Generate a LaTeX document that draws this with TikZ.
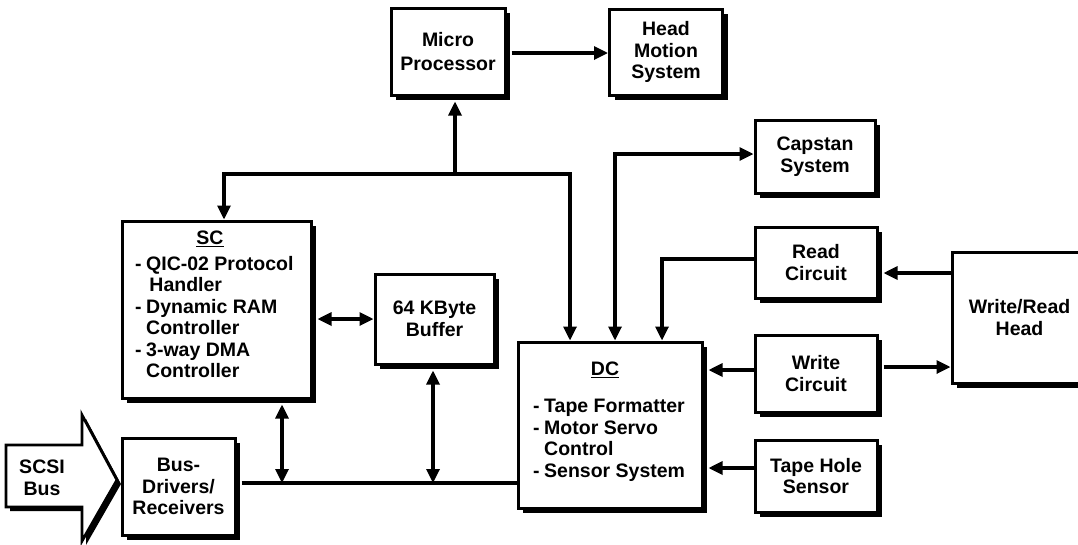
\documentclass[tikz,border=0pt]{standalone}
\usepackage{fontspec}
\setmainfont{Liberation Sans}
\usetikzlibrary{shadows,arrows.meta}
\newcommand\fs{\fontsize{19.5pt}{21.5pt}\selectfont\bfseries}
\newcommand\dsh{\makebox[11pt][l]{-}}
\newcommand\ind{\hspace*{11pt}}
\tikzset{
  blk/.style={draw, line width=3pt, fill=white, inner sep=0pt, align=center, font=\fs,
    drop shadow={shadow xshift=5pt, shadow yshift=-5pt, fill=black, opacity=1}},
  txt/.style={inner sep=0pt, font=\fs, align=left},
  wire/.style={line width=3.2pt},
  arr/.style={wire, -{Triangle[length=14pt,width=13pt]}},
  darr/.style={wire, {Triangle[length=14pt,width=13pt]}-{Triangle[length=14pt,width=13pt]}},
}
\begin{document}
\begin{tikzpicture}[x=1pt,y=-1pt]
\useasboundingbox (0,0) rectangle (1078,544);
% blocks
\node[blk, minimum width=114pt, minimum height=87pt] (MP) at (448,51.5) {Micro\\[2pt]Processor};
\node[blk, minimum width=113pt, minimum height=86pt] (HMS) at (666,52) {Head\\Motion\\System};
\node[blk, minimum width=120pt, minimum height=73pt] (CAP) at (815,156.5) {Capstan\\System};
\node[blk, minimum width=189pt, minimum height=177pt] (SC) at (216.5,309.5) {};
\node[blk, minimum width=119pt, minimum height=90pt] (BUF) at (434.5,319) {64 KByte\\Buffer};
\node[blk, minimum width=122pt, minimum height=71pt] (RD) at (816,262.5) {Read\\Circuit};
\node[blk, minimum width=135pt, minimum height=131pt] (WRH) at (1019.5,317.5) {Write/Read\\Head};
\node[blk, minimum width=184pt, minimum height=166pt] (DC) at (610,425) {};
\node[blk, minimum width=122pt, minimum height=77pt] (WR) at (816,373.5) {Write\\Circuit};
\node[blk, minimum width=122pt, minimum height=72pt] (THS) at (816,476) {Tape Hole\\Sensor};
\node[blk, minimum width=113pt, minimum height=97pt] (BD) at (178.5,486.5) {Bus-\\Drivers/\\Receivers};
% texts of SC and DC
\node[txt] (sct) at (210,239) {\underline{SC}};
\node[txt, anchor=north west] (scl) at (135,256) {\dsh QIC-02 Protocol\\\ind\,Handler\\\dsh Dynamic RAM\\\ind Controller\\\dsh 3-way DMA\\\ind Controller};
\node[txt] (dct) at (605,370) {\underline{DC}};
\node[txt, anchor=north west] (dcl) at (533,399) {\dsh Tape Formatter\\\dsh Motor Servo\\\ind Control\\\dsh Sensor System};
% SCSI bus arrow
\filldraw[line width=2.8pt, fill=white, line join=miter,
  drop shadow={shadow xshift=4pt, shadow yshift=-4pt, fill=black, opacity=1}]
  (6,445) -- (82,445) -- (82,415) -- (117,480) -- (82,541) -- (82,507) -- (6,507) -- cycle;
\node[txt, align=center] (scsi) at (42,478) {SCSI\\Bus};
% connectors
\coordinate (J1) at (455,174);
\coordinate (cL) at (224,174);
\coordinate (cR) at (570,174);
\draw[arr] (J1) -- ([yshift=-5pt]J1 |- MP.south);
\draw[arr, line join=miter] (J1) -- (cL) -- (cL |- SC.north);
\draw[arr, line join=miter] (J1) -- (cR) -- (cR |- DC.north);
\coordinate (cMH) at (560,53);
\draw[arr] ([xshift=5pt]cMH -| MP.east) -- (cMH -| HMS.west);
\coordinate (cC) at (615,154);
\draw[darr, line join=miter] (cC |- DC.north) -- (cC) -- (cC -| CAP.west);
\coordinate (cRd) at (662,259);
\draw[arr, line join=miter] (cRd -| RD.west) -- (cRd) -- (cRd |- DC.north);
\coordinate (cWR) at (915,273);
\draw[arr] (cWR -| WRH.west) -- ([xshift=5pt]cWR -| RD.east);
\coordinate (cWW) at (915,367);
\draw[arr] ([xshift=5pt]cWW -| WR.east) -- (cWW -| WRH.west);
\coordinate (cW) at (730,370);
\draw[arr] (cW -| WR.west) -- ([xshift=5pt]cW -| DC.east);
\coordinate (cT) at (730,468);
\draw[arr] (cT -| THS.west) -- ([xshift=5pt]cT -| DC.east);
\coordinate (cB) at (300,483);
\draw[wire] ([xshift=5pt]cB -| BD.east) -- (cB -| DC.west);
\coordinate (cB1) at (282,483);
\draw[darr] ([yshift=-5pt]cB1 |- SC.south) -- (cB1);
\coordinate (cB2) at (433,483);
\draw[darr] ([yshift=-5pt]cB2 |- BUF.south) -- (cB2);
\coordinate (cSB) at (340,319);
\draw[darr] ([xshift=5pt]cSB -| SC.east) -- (cSB -| BUF.west);
\end{tikzpicture}
\end{document}
